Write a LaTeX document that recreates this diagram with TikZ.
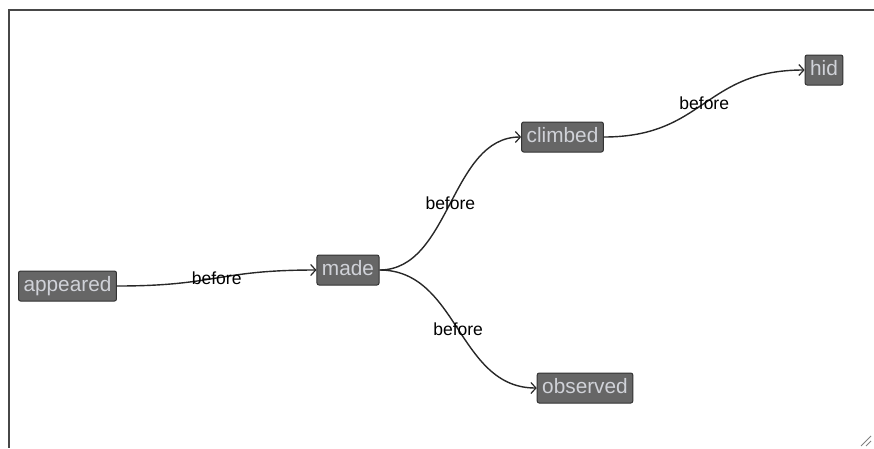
\documentclass[tikz,border=0pt]{standalone}
\usepackage{fontspec}
\setmainfont{Liberation Sans}
\usetikzlibrary{arrows.meta}
\definecolor{slate}{RGB}{102,102,102}
\definecolor{rim}{RGB}{51,51,51}
\definecolor{pale}{RGB}{208,210,216}
\definecolor{ink}{RGB}{40,40,40}
\tikzset{
  >={Straight Barb[length=5pt,width=11pt,line width=1.2pt]},
  event/.style={fill=slate,draw=rim,line width=1pt,rounded corners=2pt,
    text=pale,font=\fontsize{20.8}{20.8}\selectfont,minimum height=30pt,
    text height=15pt,text depth=4.3pt,inner xsep=5pt,inner ysep=0pt},
  link/.style={->,draw=ink,line width=1.4pt},
  rel/.style={font=\fontsize{17.5}{17.5}\selectfont,text=black,inner sep=0pt},
  frame/.style={draw=rim!90,line width=2pt},
}
\begin{document}
\begin{tikzpicture}[x=1pt,y=-1pt]
  \useasboundingbox (0,0) rectangle (874,448);
  % frame of the canvas
  \draw[frame] (874,9.5) -- (8.5,9.5) -- (8.5,448);
  % resize grip
  \draw[gray,line width=0.8pt] (861,446) -- (871,436) (866,446) -- (871,441);

  % events
  \node[event] (appeared) at (67.5,286) {appeared};
  \node[event] (made)     at (348,270)  {made};
  \node[event] (climbed)  at (562.5,137) {climbed};
  \node[event] (hid)      at (824,70)   {hid};
  \node[event] (observed) at (585,388)  {observed};

  % relations
  \foreach \from/\to/\bend in {appeared/made/100, made/climbed/71,
                               made/observed/79, climbed/hid/101}
    \draw[link] (\from.east) .. controls +(\bend,0) and +(-\bend,0) .. (\to.west)
      node[rel,midway] {before};
\end{tikzpicture}
\end{document}
